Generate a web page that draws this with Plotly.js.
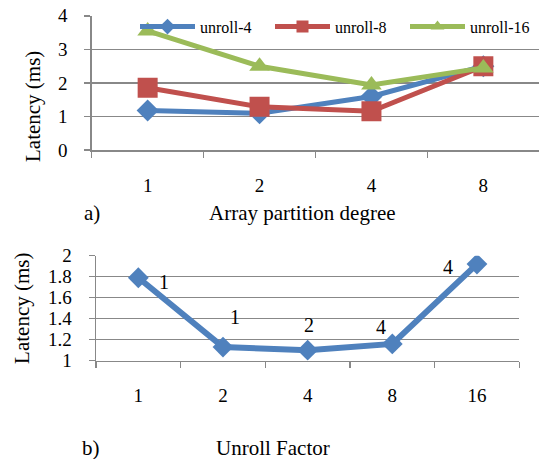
<!DOCTYPE html>
<html>
<head>
<meta charset="utf-8">
<script src="https://cdn.plot.ly/plotly-3.0.1.min.js"></script>
<style>
html,body{margin:0;padding:0;background:#ffffff;}
#chart{width:542px;height:459px;}
</style>
</head>
<body>
<div id="chart"></div>
<script>
// ---- data (a) ----
const partitionDegrees = ['1', '2', '4', '8'];
const seriesNames = ['unroll-4', 'unroll-8', 'unroll-16'];
const unroll4 = [1.18, 1.10, 1.60, 2.50];
const unroll8 = [1.86, 1.29, 1.16, 2.50];
const unroll16 = [3.55, 2.50, 1.94, 2.45];

// ---- data (b) ----
const unrollFactors = ['1', '2', '4', '8', '16'];
const bestLatency = [1.79, 1.13, 1.10, 1.16, 1.92];
const bestPartitionLabels = ['1', '1', '2', '4', '4'];

// ---- text ----
const yTitle = 'Latency (ms)';
const xTitleA = 'Array partition degree';
const xTitleB = 'Unroll Factor';
const captionA = 'a)';
const captionB = 'b)';

// ---- style ----
const W = 542, H = 459;
const FONT = 'Liberation Serif';
const GRID = '#888888';
const BLUE = '#4F81BD', RED = '#C0504D', GREEN = '#9BBB59';
const px = v => v / W;
const py = v => 1 - v / H;

const traces = [
  {x: partitionDegrees, y: unroll4, name: seriesNames[0], type: 'scatter', mode: 'lines+markers',
   xaxis: 'x', yaxis: 'y', line: {color: BLUE, width: 5},
   marker: {symbol: 'diamond', size: 17, color: BLUE, line: {width: 0}}},
  {x: partitionDegrees, y: unroll8, name: seriesNames[1], type: 'scatter', mode: 'lines+markers',
   xaxis: 'x', yaxis: 'y', line: {color: RED, width: 5},
   marker: {symbol: 'square', size: 20, color: RED, line: {width: 0}}},
  {x: partitionDegrees, y: unroll16, name: seriesNames[2], type: 'scatter', mode: 'lines+markers',
   xaxis: 'x', yaxis: 'y', line: {color: GREEN, width: 5},
   marker: {symbol: 'triangle-up', size: 18, color: GREEN, line: {width: 0}}},
  {x: unrollFactors, y: bestLatency, name: 'best', type: 'scatter', mode: 'lines+markers',
   xaxis: 'x2', yaxis: 'y2', showlegend: false, line: {color: BLUE, width: 6},
   marker: {symbol: 'diamond', size: 16, color: BLUE, line: {width: 0}}}
];

const tickFont = {family: FONT, size: 19, color: '#000000'};
const titleFont = {family: FONT, size: 21, color: '#000000'};
const labelFont = {family: FONT, size: 20, color: '#000000'};

const xCommon = {
  type: 'category', showline: true, linecolor: GRID, linewidth: 1.5,
  ticks: 'outside', tickson: 'boundaries', ticklen: 6, tickcolor: GRID, tickwidth: 1.5,
  showgrid: false, zeroline: false, tickfont: tickFont, ticklabelstandoff: 17, fixedrange: true
};
const yCommon = {
  showline: true, linecolor: GRID, linewidth: 1.5,
  ticks: 'outside', ticklen: 6, tickcolor: GRID, tickwidth: 1.5,
  showgrid: true, gridcolor: GRID, gridwidth: 1.5, zeroline: false,
  tickfont: tickFont, ticklabelstandoff: 13, fixedrange: true
};

const labelOffsets = [[26, -4], [12, 30], [1, 25], [-11, 17], [-29, -3]];
const annotations = bestPartitionLabels.map((t, i) => ({
  xref: 'x2', yref: 'y2', x: i, y: bestLatency[i], text: t,
  showarrow: false, xshift: labelOffsets[i][0], yshift: labelOffsets[i][1],
  font: labelFont
}));
annotations.push(
  {xref: 'paper', yref: 'paper', x: px(33), y: py(107), text: yTitle, textangle: -90,
   showarrow: false, xanchor: 'center', yanchor: 'middle', font: titleFont},
  {xref: 'paper', yref: 'paper', x: px(302.5), y: py(213), text: xTitleA,
   showarrow: false, xanchor: 'center', yanchor: 'middle', font: titleFont},
  {xref: 'paper', yref: 'paper', x: px(91.5), y: py(213), text: captionA,
   showarrow: false, xanchor: 'center', yanchor: 'middle', font: titleFont},
  {xref: 'paper', yref: 'paper', x: px(273), y: py(448), text: xTitleB,
   showarrow: false, xanchor: 'center', yanchor: 'middle', font: titleFont},
  {xref: 'paper', yref: 'paper', x: px(91), y: py(448), text: captionB,
   showarrow: false, xanchor: 'center', yanchor: 'middle', font: titleFont}
);

const layout = {
  width: W, height: H,
  margin: {l: 0, r: 0, t: 0, b: 0, autoexpand: false},
  paper_bgcolor: '#ffffff', plot_bgcolor: '#ffffff',
  font: {family: FONT, color: '#000000'},
  xaxis: Object.assign({}, xCommon, {domain: [px(91.7), px(539.3)], range: [-0.5, 3.5], anchor: 'y'}),
  yaxis: Object.assign({}, yCommon, {domain: [py(150.2), py(15.8)], range: [0, 4], tick0: 0, dtick: 1, anchor: 'x'}),
  xaxis2: Object.assign({}, xCommon, {domain: [px(96), px(519.3)], range: [-0.5, 4.5], anchor: 'y2'}),
  yaxis2: Object.assign({}, yCommon, {domain: [py(360.7), py(255.7)], range: [1, 2], tick0: 1, dtick: 0.2, anchor: 'x2',
    title: {text: yTitle, font: titleFont, standoff: 12}}),
  showlegend: true,
  legend: {orientation: 'h', x: px(135), xanchor: 'left', y: py(26.7), yanchor: 'middle',
    font: {family: FONT, size: 16, color: '#000000'}, bgcolor: 'rgba(0,0,0,0)',
    itemwidth: 55, entrywidth: 65, itemsizing: 'constant', traceorder: 'normal'},
  annotations: annotations
};

Plotly.newPlot('chart', traces, layout, {displayModeBar: false, staticPlot: true});
</script>
</body>
</html>
